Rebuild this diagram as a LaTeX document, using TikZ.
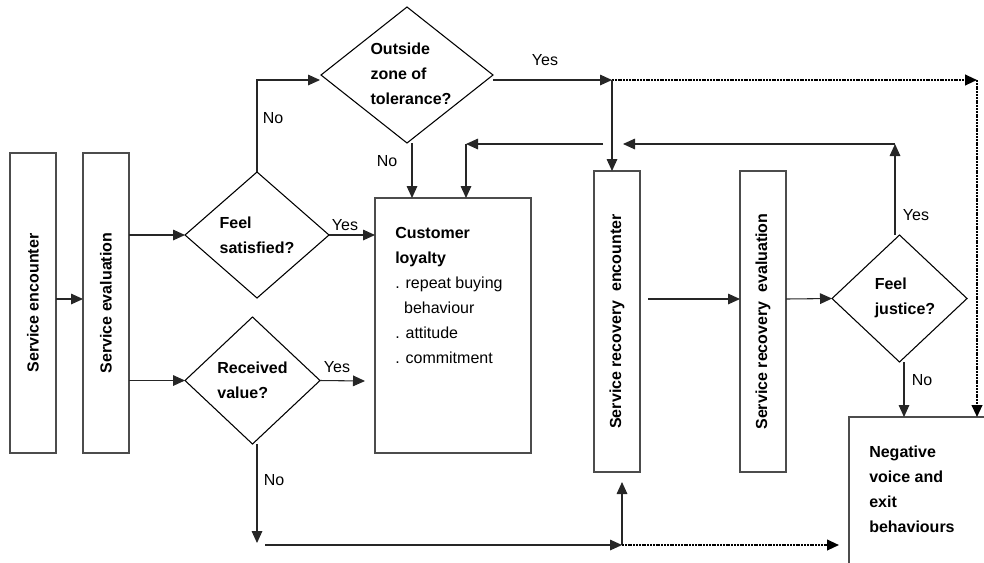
\documentclass[tikz,border=0pt]{standalone}
\usepackage{fontspec}
\setmainfont{Liberation Sans}
\usetikzlibrary{shapes.geometric,arrows.meta}

\begin{document}
\begin{tikzpicture}[x=0.75pt,y=0.75pt,yscale=-1,xscale=1,
    plain/.style={font=\fontsize{12}{18.75}\selectfont},
    bold/.style={font=\fontsize{12}{18.75}\selectfont\bfseries},
    box/.style={draw=black!70, line width=0.8pt, inner sep=0pt, outer sep=0pt},
    tallbox/.style={box, minimum width=34.5pt, minimum height=225pt},
    decision/.style={diamond, draw=black, line width=0.8pt, inner sep=0pt, outer sep=0pt},
    arr/.style={draw=black!85, line width=0.8pt, -{Triangle[length=9pt,width=8pt]}},
    dotarr/.style={arr, draw=black, line width=1.5pt, dash pattern=on 1.5pt off 0.6pt},
    lab/.style={plain, inner sep=0pt}]
  \useasboundingbox (0,0) rectangle (984,562);
  \clip (0,0) rectangle (984,562);

  % Shape: boxes
  \node [tallbox] (enc) at (33,303) {};
  \node [tallbox] (eval) at (106,303) {};
  \node [box, minimum width=117pt, minimum height=191.25pt] (loyal) at (453,325.5) {};
  \node [tallbox, minimum height=225.75pt] (renc) at (617,321.5) {};
  \node [tallbox, minimum height=225.75pt] (reval) at (763,321.5) {};
  \node [box, minimum width=150pt, minimum height=150pt] (neg) at (949,517) {};
  % Shape: decisions
  \node [decision, minimum width=108pt, minimum height=94.5pt] (sat) at (257,235) {};
  \node [decision, minimum width=129pt, minimum height=102pt] (outz) at (407,75) {};
  \node [decision, minimum width=101.25pt, minimum height=95.25pt] (recv) at (252.5,380.5) {};
  \node [decision, minimum width=101.25pt, minimum height=95.25pt] (just) at (899.5,298.5) {};

  % Text Node
  \node [bold, rotate=90] (encT) at (enc) {Service encounter};
  \node [bold, rotate=90] (evalT) at (eval) {Service evaluation};
  \node [bold, rotate=90] (rencT) at (renc) {Service recovery\ \ encounter};
  \node [bold, rotate=90] (revalT) at (reval) {Service recovery\ \ evaluation};
  \node [bold, align=left] (satT) at (sat) {Feel\\satisfied?};
  \node [bold, align=left] (outzT) at (411,74) {Outside\\zone of\\tolerance?};
  \node [bold, align=left] (recvT) at (recv) {Received\\value?};
  \node [bold, align=left] (justT) at (905,298) {Feel\\justice?};
  \node [plain, align=left, anchor=north west, inner sep=0pt] (loyalT) at (395,227)
    {\textbf{Customer}\\\textbf{loyalty}\\. repeat buying\\\phantom{.}\ behaviour\\. attitude\\. commitment};
  \node [bold, align=left, anchor=north west, inner sep=0pt] (negT) at (869,446)
    {Negative\\voice and\\exit\\behaviours};

  % Free ends
  \coordinate (midrow) at (0,299);
  \coordinate (outzIn) at (320,80);
  \coordinate (split) at (612,80);
  \coordinate (farR) at (977,80);
  \coordinate (noTop) at (412,143);
  \coordinate (backR) at (895,144);
  \coordinate (backM) at (623,144);
  \coordinate (backL) at (603,144);
  \coordinate (loyIn) at (466,144);
  \coordinate (rencOut) at (648,299);
  \coordinate (jNo) at (904,362);
  \coordinate (recvYes) at (365,381);
  \coordinate (lowL) at (257,543);
  \coordinate (lowS) at (265,545);
  \coordinate (lowM) at (622,545);
  \coordinate (rencIn) at (622,482);
  \coordinate (negIn) at (839,545);

  % Connectors
  \draw [arr] (enc.east |- midrow) -- (eval.west |- midrow);
  \draw [arr] (eval.east |- sat.west) -- (sat.west);
  \draw [arr] (eval.east |- recv.west) -- (recv.west);
  \draw [arr] (sat.north) |- (outzIn);
  \draw [arr] (sat.east) -- (sat.east -| loyal.west);
  \draw [arr] (noTop) -- (noTop |- loyal.north);
  \draw [arr] (outz.east |- split) -- (split);
  \draw [dotarr] (split) -- (farR);
  \draw [dotarr] (farR) -- (farR |- neg.north);
  \draw [arr] (split) -- (split |- renc.north);
  \draw [arr] (backR |- just.north) -- (backR);
  \draw [arr] (backR) -- (backM);
  \draw [arr] (backL) -- (loyIn);
  \draw [arr] (loyIn) -- (loyIn |- loyal.north);
  \draw [arr] (rencOut) -- (reval.west |- midrow);
  \draw [arr] (reval.east |- midrow) -- (just.west);
  \draw [arr] (jNo) -- (jNo |- neg.north);
  \draw [arr] (recv.east) -- (recvYes);
  \draw [arr] (lowL |- recv.south) -- (lowL);
  \draw [arr] (lowS) -- (lowM);
  \draw [arr] (lowM) -- (rencIn);
  \draw [dotarr] (lowM) -- (negIn);

  % Labels
  \node [lab] (noSat) at (273,118) {No};
  \node [lab] (noOutz) at (387,161) {No};
  \node [lab] (yesSat) at (345,225) {Yes};
  \node [lab] (yesOutz) at (545,60) {Yes};
  \node [lab] (yesJust) at (916,215) {Yes};
  \node [lab] (noJust) at (922,380) {No};
  \node [lab] (yesRecv) at (337,367) {Yes};
  \node [lab] (noRecv) at (274,480) {No};
\end{tikzpicture}
\end{document}
